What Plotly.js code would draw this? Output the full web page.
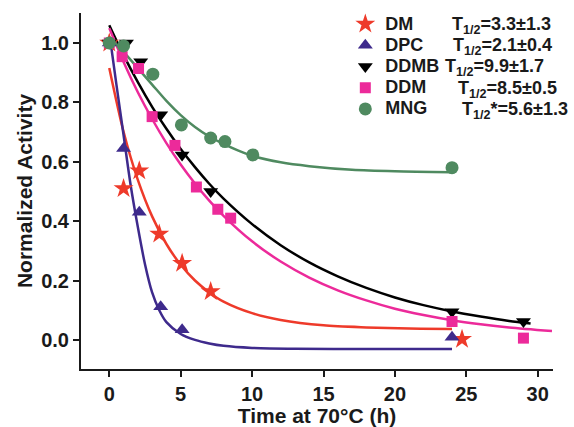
<!DOCTYPE html>
<html>
<head>
<meta charset="utf-8">
<script src="https://cdn.plot.ly/plotly-3.0.1.min.js"></script>
<style>html,body{margin:0;padding:0;background:#fff;}#chart{width:574px;height:427px;}</style>
</head>
<body>
<div id="chart"></div>
<script>
// ---- measured points ----
const dmT   = [0, 1, 2.1, 3.5, 5.1, 7.1, 24.7];
const dmY   = [1.0, 0.51, 0.57, 0.357, 0.258, 0.163, 0.002];
const dpcT  = [0, 1, 2.1, 3.6, 5.1, 24];
const dpcY  = [1.0, 0.645, 0.43, 0.112, 0.034, 0.009];
const ddmbT = [0, 1.2, 2.2, 3.6, 5.1, 7.1, 24, 29];
const ddmbY = [1.0, 1.0, 0.937, 0.758, 0.623, 0.50, 0.095, 0.062];
const ddmT  = [0, 0.9, 2.05, 3.0, 4.6, 6.1, 7.6, 8.5, 24, 29];
const ddmY  = [1.0, 0.954, 0.914, 0.752, 0.655, 0.515, 0.44, 0.41, 0.062, 0.006];
const mngT  = [0, 1, 3.05, 5.05, 7.1, 8.1, 10.05, 24];
const mngY  = [1.0, 0.99, 0.895, 0.724, 0.68, 0.668, 0.623, 0.58];

// ---- fitted curves ----
const dmFitT   = [0, 1, 2, 3, 4, 5, 6, 7, 8, 10, 12, 15, 18, 21, 24];
const dmFitY   = [0.916, 0.701, 0.539, 0.416, 0.323, 0.253, 0.200, 0.160, 0.129, 0.090, 0.067, 0.049, 0.042, 0.038, 0.037];
const dpcFitT  = [0.1, 0.5, 1, 1.5, 2, 2.5, 3, 3.5, 4, 5, 6, 7, 8, 10, 13, 18, 24];
const dpcFitY  = [1.0, 0.86, 0.69, 0.52, 0.38, 0.255, 0.16, 0.10, 0.06, 0.02, 0.0, -0.012, -0.02, -0.027, -0.03, -0.031, -0.031];
const ddmbFitT = [0, 1, 2, 3, 4, 5, 6, 7, 8, 10, 12, 14, 16, 18, 20, 22, 24, 26, 28, 29.5];
const ddmbFitY = [1.06, 0.959, 0.868, 0.785, 0.711, 0.643, 0.582, 0.526, 0.476, 0.390, 0.319, 0.261, 0.214, 0.175, 0.143, 0.117, 0.096, 0.079, 0.064, 0.055];
const ddmFitT  = [0, 1, 2, 3, 4, 5, 6, 7, 8, 10, 12, 14, 16, 18, 20, 22, 24, 26, 28, 31];
const ddmFitY  = [1.05, 0.936, 0.834, 0.744, 0.663, 0.591, 0.527, 0.469, 0.418, 0.332, 0.264, 0.210, 0.167, 0.133, 0.105, 0.084, 0.0665, 0.053, 0.042, 0.030];
const mngFitT  = [0, 1, 2, 3, 4, 5, 6, 7, 8, 9, 10, 12, 14, 17, 20, 24];
const mngFitY  = [1.02, 0.97, 0.915, 0.86, 0.805, 0.757, 0.717, 0.685, 0.66, 0.638, 0.62, 0.598, 0.585, 0.573, 0.568, 0.565];

const names = ['DM', 'DPC', 'DDMB', 'DDM', 'MNG'];
const halfLives = ['T<sub>1/2</sub>=3.3±1.3', 'T<sub>1/2</sub>=2.1±0.4', 'T<sub>1/2</sub>=9.9±1.7', 'T<sub>1/2</sub>=8.5±0.5', 'T<sub>1/2</sub>*=5.6±1.3'];

const colors = ['#ee3a2a', '#3e2a8c', '#000000', '#ec2a9a', '#4f8a60'];
const symbols = ['star', 'triangle-up', 'triangle-down', 'square', 'circle'];
const sizes = [15, 13, 13, 11, 13];

const ptsT = [dmT, dpcT, ddmbT, ddmT, mngT];
const ptsY = [dmY, dpcY, ddmbY, ddmY, mngY];
const fitT = [dmFitT, dpcFitT, ddmbFitT, ddmFitT, mngFitT];
const fitY = [dmFitY, dpcFitY, ddmbFitY, ddmFitY, mngFitY];

const FAM = 'Liberation Sans, Arial, sans-serif';
const INK = '#1a1a1a';
const traces = [];
for (let i = 0; i < 5; i++) {
  traces.push({
    x: fitT[i], y: fitY[i], mode: 'lines', type: 'scatter',
    line: {color: colors[i], width: 2.5, shape: 'spline', smoothing: 0.8},
    showlegend: false, hoverinfo: 'skip'
  });
}
for (let i = 0; i < 5; i++) {
  traces.push({
    x: ptsT[i], y: ptsY[i], mode: 'markers', type: 'scatter',
    name: '<span style="font-size:18px">' + names[i] + '</span>',
    marker: {color: colors[i], symbol: symbols[i], size: sizes[i], line: {width: 0}}
  });
}

// half-life labels placed beside each legend row
const rowPx = [25.5, 46.7, 67.9, 89.1, 110.3];
const labelPx = [450, 451, 443, 456, 460];
const annotations = halfLives.map((t, i) => ({
  text: t, xref: 'paper', yref: 'paper',
  x: (labelPx[i] - 81) / 472, y: (369 - rowPx[i]) / 356,
  xanchor: 'left', yanchor: 'middle', showarrow: false,
  font: {family: FAM, size: 18, color: INK, weight: 'bold'}
}));

const tickFont = {family: FAM, size: 20, color: INK, weight: 'bold'};

const layout = {
  width: 574, height: 427,
  margin: {l: 81, r: 21, t: 13, b: 58, autoexpand: false},
  paper_bgcolor: '#ffffff', plot_bgcolor: '#ffffff',
  showlegend: true,
  annotations: annotations,
  legend: {
    x: 0.56, y: 1.0126, xanchor: 'left', yanchor: 'top',
    font: {family: FAM, size: 14, color: INK, weight: 'bold'},
    bgcolor: 'rgba(0,0,0,0)', tracegroupgap: 0
  },
  xaxis: {
    range: [-1.98, 31.07], tickvals: [0, 5, 10, 15, 20, 25, 30],
    showgrid: false, zeroline: false, showline: true, linecolor: INK, linewidth: 2,
    ticks: 'outside', ticklen: 6, tickwidth: 2, tickcolor: INK,
    tickfont: tickFont,
    title: {text: 'Time at 70°C (h)', font: {family: FAM, size: 21, color: INK, weight: 'bold'}, standoff: 6}
  },
  yaxis: {
    range: [-0.098, 1.101], tickvals: [0, 0.2, 0.4, 0.6, 0.8, 1.0], tickformat: '.1f',
    showgrid: false, zeroline: false, showline: true, linecolor: INK, linewidth: 2,
    ticks: 'outside', ticklen: 6, tickwidth: 2, tickcolor: INK,
    tickfont: tickFont,
    title: {text: 'Normalized Activity', font: {family: FAM, size: 21, color: INK, weight: 'bold'}, standoff: 3}
  }
};

Plotly.newPlot('chart', traces, layout, {displayModeBar: false, staticPlot: true});
</script>
</body>
</html>
